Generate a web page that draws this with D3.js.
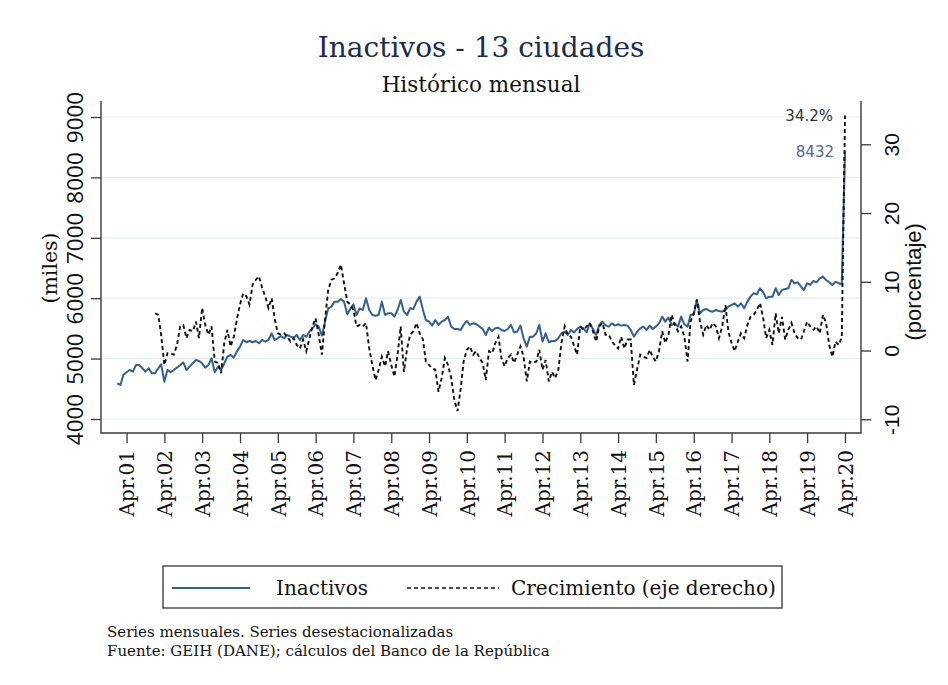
<!DOCTYPE html>
<html>
<head>
<meta charset="utf-8">
<script src="https://cdn.jsdelivr.net/npm/d3@7"></script>
<style>
  body { margin: 0; background: #fff; }
  svg { display: block; }
</style>
</head>
<body>
<svg id="chart" width="948" height="685"></svg>
<script>
// Población inactiva, 13 ciudades (miles), mensual desde enero de 2001
const inactivos = [
  4591, 4563, 4729, 4773, 4811, 4784, 4894, 4894, 4839, 4784, 4839, 4756,
  4756, 4839, 4905, 4618, 4811, 4773, 4811, 4850, 4894, 4938, 4811, 4867,
  4922, 4977, 4960, 4922, 4850, 4894, 5005, 4773, 4867, 4811, 4922, 5032,
  5060, 5016, 5115, 5198, 5308, 5270, 5292, 5270, 5292, 5253, 5308, 5281,
  5308, 5419, 5308, 5336, 5374, 5336, 5391, 5363, 5347, 5391, 5308, 5391,
  5363, 5446, 5501, 5568, 5529, 5380, 5612, 5833, 5860, 5943, 5943, 5987,
  5943, 5733, 5822, 5899, 5722, 5833, 5805, 5998, 5805, 5722, 5711, 5722,
  5943, 5722, 5750, 5750, 5695, 5805, 5971, 5777, 5722, 5833, 5822, 5943,
  6026, 5805, 5639, 5612, 5546, 5639, 5557, 5612, 5639, 5695, 5529, 5490,
  5490, 5474, 5557, 5623, 5557, 5584, 5568, 5529, 5490, 5391, 5512, 5457,
  5501, 5512, 5474, 5457, 5490, 5557, 5435, 5446, 5546, 5336, 5198, 5363,
  5363, 5419, 5557, 5281, 5419, 5270, 5292, 5292, 5336, 5419, 5446, 5391,
  5474, 5435, 5490, 5529, 5501, 5435, 5584, 5490, 5391, 5557, 5612, 5551,
  5529, 5584, 5546, 5568, 5546, 5557, 5546, 5474, 5363, 5446, 5501, 5529,
  5474, 5546, 5490, 5529, 5584, 5695, 5612, 5678, 5557, 5584, 5529, 5695,
  5568, 5529, 5722, 5733, 5971, 5750, 5805, 5822, 5788, 5777, 5805, 5788,
  5777, 5805, 5860, 5888, 5915, 5860, 5915, 5833, 5943, 6026, 6081, 6064,
  6164, 6098, 5998, 6026, 6026, 6164, 6053, 6136, 6153, 6164, 6302, 6247,
  6263, 6191, 6136, 6247, 6219, 6285, 6263, 6329, 6357, 6302, 6263, 6219,
  6274, 6247, 6230, 8432
];

// Crecimiento anual (%), mensual desde enero de 2002
const crecimiento = [
   5.4,  5.2,  2.3, -2.1, -0.4, -0.4, -0.6,  0.8,  3.5,  3.7,  1.8,  3.0,
   2.8,  4.2,  1.8,  6.2,  3.7,  2.3,  3.5, -1.6, -1.8, -3.3,  1.1,  3.0,
   0.6,  2.0,  4.5,  6.7,  8.3,  7.9,  6.7,  9.6, 10.3, 10.8,  9.1,  7.9,
   6.2,  7.6,  4.7,  2.5,  2.3,  2.5,  2.0,  1.3,  1.8,  0.8,  0.3,  1.6,
  -0.1,  1.8,  3.5,  4.7,  2.3, -0.6,  4.5,  8.8, 10.3, 10.5, 11.3, 12.5,
   9.8,  7.1,  6.7,  5.9,  3.5,  3.7,  3.5,  4.0,  0.3, -2.1, -4.3, -2.8,
  -0.9, -2.3, -0.1, -2.1, -3.8, -0.6,  3.5, -3.1,  0.3,  2.3,  2.8,  4.0,
   2.5,  1.6, -1.6, -2.1, -2.6, -2.8, -6.0, -4.0, -1.1, -2.1, -4.0, -7.2,
  -8.8, -5.5, -1.6,  0.1,  0.6, -0.6, -0.1, -1.1, -1.8, -4.3, -0.1, -0.4,
   1.1,  2.0, -1.1, -2.3, -1.1, -0.6, -1.8, -0.6,  0.6, -0.9, -4.5, -1.6,
  -1.8, -1.6,  0.1, -2.8, -1.4, -4.5, -3.1, -4.0, -2.8,  1.1,  3.5,  2.3,
   2.0,  0.6, -0.6,  3.5,  3.0,  3.5,  4.0,  2.8,  1.3,  3.5,  4.0,  2.3,
   2.3,  1.3,  0.8,  0.3,  2.0,  0.3,  1.6,  1.6, -5.0, -2.8, -0.6, -0.9,
  -1.1,  0.1, -0.9, -1.6, -0.1,  2.8,  1.1,  2.3,  5.2,  3.7,  2.8,  3.5,
   2.0, -1.6,  4.2,  5.4,  7.4,  4.2,  2.3,  3.7,  3.0,  4.0,  3.5,  1.8,
   3.5,  6.6,  2.8,  1.1, -0.1,  1.3,  2.5,  1.8,  3.7,  4.9,  5.2,  5.9,
   6.9,  4.7,  1.8,  3.0,  0.8,  5.4,  2.5,  4.9,  1.6,  3.0,  4.0,  2.5,
   1.8,  1.6,  2.8,  4.2,  3.5,  3.0,  3.5,  2.5,  5.2,  4.0,  0.8, -0.9,
   1.3,  0.8,  2.0, 34.2
];

const inicioInactivos = [2001, 0];   // año, mes (enero)
const inicioCrecimiento = [2002, 0];

const ticksMiles = [4000, 5000, 6000, 7000, 8000, 9000];
const ticksPorcentaje = [-10, 0, 10, 20, 30];
const etiquetasX = ["Apr.01","Apr.02","Apr.03","Apr.04","Apr.05","Apr.06","Apr.07",
  "Apr.08","Apr.09","Apr.10","Apr.11","Apr.12","Apr.13","Apr.14","Apr.15","Apr.16",
  "Apr.17","Apr.18","Apr.19","Apr.20"];

const titulo = "Inactivos - 13 ciudades";
const subtitulo = "Histórico mensual";
const notas = ["Series mensuales. Series desestacionalizadas",
               "Fuente: GEIH (DANE); cálculos del Banco de la República"];

// ---- series con fechas ----
const mensual = (inicio, valores) => valores.map((v, i) => ({
  fecha: new Date(inicio[0], inicio[1] + i, 1), valor: v }));
const serieInac = mensual(inicioInactivos, inactivos);
const serieCrec = mensual(inicioCrecimiento, crecimiento);

// ---- layout ----
const plot = { left: 101, right: 861, top: 101, bottom: 433 };
const azul = "#34608e";
const serif = "'DejaVu Serif', serif";
const sans = "'Liberation Sans', sans-serif";
const svg = d3.select("#chart");

const x = d3.scaleTime()
  .domain([new Date(2001, 0, 1), new Date(2020, 3, 1)])
  .range([117.25, 845]);
const yL = d3.scaleLinear().domain([3768, 9265]).range([plot.bottom, plot.top]);
const yR = d3.scaleLinear().domain([-12, 36.3]).range([plot.bottom, plot.top]);

// grid
svg.append("g").selectAll("line").data(ticksMiles).join("line")
  .attr("x1", plot.left).attr("x2", plot.right)
  .attr("y1", d => yL(d)).attr("y2", d => yL(d))
  .attr("stroke", "#e3edf0").attr("stroke-width", 1.2);

// axes
const axisColor = "#3a3a3a";
function styleAxis(g) {
  g.select(".domain").remove();
  g.selectAll(".tick line").attr("stroke", axisColor).attr("stroke-width", 1.3);
  g.selectAll(".tick text").attr("fill", "#111");
}

// left
const gL = svg.append("g").attr("transform", `translate(${plot.left},0)`)
  .call(d3.axisLeft(yL).tickValues(ticksMiles).tickSize(10).tickFormat(d => String(d)))
  .call(styleAxis);
gL.selectAll(".tick text")
  .attr("transform", "rotate(-90)")
  .attr("x", 0).attr("y", -18).attr("dy", 0)
  .attr("text-anchor", "middle")
  .style("font-family", "'Open Sans', sans-serif").style("font-size", "22.5px");

// right (hyphen-minus labels)
const gR = svg.append("g").attr("transform", `translate(${plot.right},0)`)
  .call(d3.axisRight(yR).tickValues(ticksPorcentaje).tickSize(10).tickFormat(d => String(d)))
  .call(styleAxis);
gR.selectAll(".tick text")
  .attr("transform", "rotate(-90)")
  .attr("x", 0).attr("y", 38).attr("dy", 0)
  .attr("text-anchor", "middle")
  .style("font-family", sans).style("font-size", "21px");

// bottom
const fechasAbril = etiquetasX.map(s => new Date(2000 + +s.slice(4), 3, 1));
const gB = svg.append("g").attr("transform", `translate(0,${plot.bottom})`)
  .call(d3.axisBottom(x).tickValues(fechasAbril).tickSize(10)
    .tickFormat((d, i) => etiquetasX[i]))
  .call(styleAxis);
gB.selectAll(".tick text")
  .attr("transform", "rotate(-90)")
  .attr("x", -17).attr("y", 0).attr("dy", "0.36em")
  .attr("text-anchor", "end")
  .style("font-family", serif).style("font-size", "20px");

// axis frame lines
svg.append("path")
  .attr("d", `M${plot.left},${plot.top}V${plot.bottom}H${plot.right}V${plot.top}`)
  .attr("fill", "none").attr("stroke", axisColor).attr("stroke-width", 1.4);

// axis titles
svg.append("text").attr("transform", `translate(57,${(yL(4000) + yL(9000)) / 2}) rotate(-90)`)
  .attr("text-anchor", "middle").style("font-family", serif).style("font-size", "20.5px")
  .attr("fill", "#111").text("(miles)");
svg.append("text").attr("transform", `translate(921,${(yR(-10) + yR(30)) / 2}) rotate(-90)`)
  .attr("text-anchor", "middle").style("font-family", sans)
  .style("font-size", "22px").attr("fill", "#111").text("(porcentaje)");

// lines
svg.append("path").datum(serieInac)
  .attr("d", d3.line().x(d => x(d.fecha)).y(d => yL(d.valor)))
  .attr("fill", "none").attr("stroke", azul).attr("stroke-width", 2)
  .attr("stroke-linejoin", "round");
svg.append("path").datum(serieCrec)
  .attr("d", d3.line().x(d => x(d.fecha)).y(d => yR(d.valor)))
  .attr("fill", "none").attr("stroke", "#111").attr("stroke-width", 1.9)
  .attr("stroke-dasharray", "4,3");

// last-value labels
const ultInac = serieInac[serieInac.length - 1];
const ultCrec = serieCrec[serieCrec.length - 1];
svg.append("text").attr("x", x(ultCrec.fecha) - 12).attr("y", yR(ultCrec.valor))
  .attr("dy", "0.36em").attr("text-anchor", "end")
  .style("font-family", "'DejaVu Sans', sans-serif").style("font-size", "15px")
  .attr("fill", "#333").text(ultCrec.valor.toFixed(1) + "%");
svg.append("text").attr("x", x(ultInac.fecha) - 11).attr("y", yL(ultInac.valor))
  .attr("dy", "0.36em").attr("text-anchor", "end")
  .style("font-family", "'DejaVu Sans', sans-serif").style("font-size", "15px")
  .attr("fill", "#4d6a90").text(String(ultInac.valor));

// titles
svg.append("text").attr("x", 481).attr("y", 57).attr("text-anchor", "middle")
  .style("font-family", serif).style("font-size", "28px").attr("fill", "#1d2b4c")
  .text(titulo);
svg.append("text").attr("x", 481).attr("y", 92).attr("text-anchor", "middle")
  .style("font-family", serif).style("font-size", "21.5px").attr("fill", "#111")
  .text(subtitulo);

// legend
const leg = svg.append("g");
leg.append("rect").attr("x", 163).attr("y", 566).attr("width", 619).attr("height", 42)
  .attr("fill", "#fff").attr("stroke", "#333").attr("stroke-width", 1.3);
leg.append("line").attr("x1", 172).attr("x2", 250).attr("y1", 588).attr("y2", 588)
  .attr("stroke", azul).attr("stroke-width", 2);
leg.append("text").attr("x", 276).attr("y", 595)
  .style("font-family", serif).style("font-size", "20px").attr("fill", "#111").text("Inactivos");
leg.append("line").attr("x1", 407).attr("x2", 499).attr("y1", 588).attr("y2", 588)
  .attr("stroke", "#111").attr("stroke-width", 1.6).attr("stroke-dasharray", "4,3");
leg.append("text").attr("x", 511).attr("y", 595)
  .style("font-family", serif).style("font-size", "20px").attr("fill", "#111")
  .text("Crecimiento (eje derecho)");

// notes
svg.append("g").selectAll("text").data(notas).join("text")
  .attr("x", 107).attr("y", (d, i) => 637 + i * 18.5)
  .style("font-family", serif).style("font-size", "15px").attr("fill", "#111")
  .text(d => d);
</script>
</body>
</html>
